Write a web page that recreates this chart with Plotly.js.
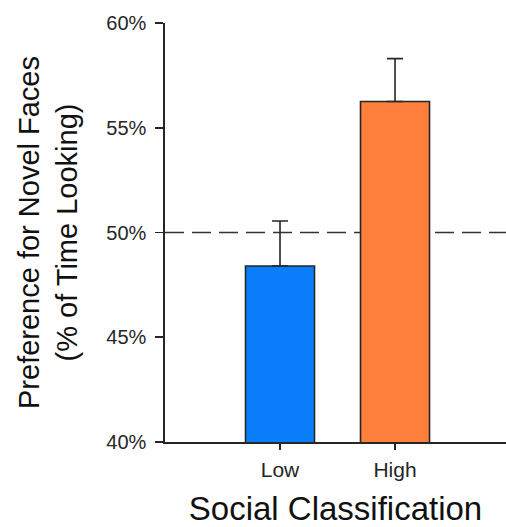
<!DOCTYPE html>
<html>
<head>
<meta charset="utf-8">
<script src="https://cdn.plot.ly/plotly-3.0.1.min.js"></script>
<style>html,body{margin:0;padding:0;background:#fff;}#chart{width:506px;height:527px;}</style>
</head>
<body>
<div id="chart"></div>
<script>
const categories = ["Low", "High"];
const values = [48.4, 56.25];
const errorsUp = [2.15, 2.05];
const barColors = ["#0A7EFA", "#FF7F3C"];
const yTickVals = [40, 45, 50, 55, 60];
const yTickText = ["40%", "45%", "50%", "55%", "60%"];
const chanceLevel = 50;

const ink = "#262626";
const font = "Liberation Sans, Arial, sans-serif";

const trace = {
  type: "bar",
  x: categories,
  y: values,
  base: 0,
  width: 0.6,
  marker: { color: barColors, line: { color: ink, width: 1.6 } },
  error_y: {
    type: "data", symmetric: false, array: errorsUp, arrayminus: [0, 0],
    color: ink, thickness: 1.6, width: 8
  },
  hoverinfo: "none"
};

const layout = {
  width: 506, height: 527,
  margin: { l: 165, r: 0, t: 23, b: 85 },
  paper_bgcolor: "#fff", plot_bgcolor: "#fff",
  showlegend: false,
  font: { family: font, color: ink },
  xaxis: {
    type: "category",
    range: [-1, 1.965],
    showline: true, linecolor: ink, linewidth: 1.6,
    ticks: "outside", ticklen: 6, tickwidth: 1.6, tickcolor: ink,
    ticklabelstandoff: 2,
    tickfont: { size: 21, family: font, color: ink },
    showgrid: false, zeroline: false,
    title: { text: "Social Classification", font: { size: 33, family: font, color: "#111" }, standoff: 24 }
  },
  yaxis: {
    range: [40, 60],
    tickvals: yTickVals, ticktext: yTickText,
    showline: true, linecolor: ink, linewidth: 1.6,
    ticks: "outside", ticklen: 8, tickwidth: 1.6, tickcolor: ink,
    ticklabelstandoff: 5,
    tickfont: { size: 20, family: font, color: ink },
    showgrid: false, zeroline: false,
    title: { text: "Preference for Novel Faces<br>(% of Time Looking)", font: { size: 29, family: font, color: "#111" }, standoff: 20 }
  },
  shapes: [{
    type: "line", xref: "paper", x0: 0, x1: 1, yref: "y", y0: chanceLevel, y1: chanceLevel,
    layer: "below", line: { color: "#333", width: 1.6, dash: "19px,8px" }
  }]
};

Plotly.newPlot("chart", [trace], layout, { staticPlot: true, displayModeBar: false });
</script>
</body>
</html>
